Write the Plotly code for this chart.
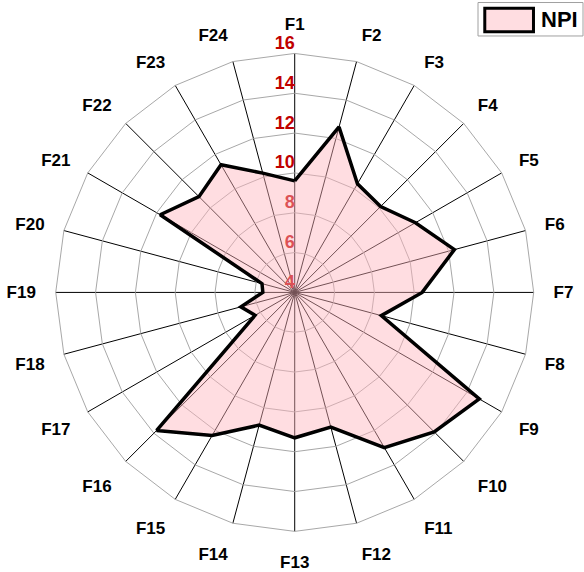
import plotly.graph_objects as go

categories = [f"F{i}" for i in range(1, 25)]
npi_values = [9.6, 12.6, 10.3, 10.1, 11.0, 12.3, 10.4, 8.5, 14.7, 13.9, 13.0, 11.0,
              11.3, 10.9, 12.3, 13.8, 6.3, 6.8, 5.6, 5.7, 11.8, 10.8, 11.4, 10.2]
radial_ticks = [4, 6, 8, 10, 12, 14, 16]
radial_tick_text = [str(v) for v in radial_ticks]
series_name = "NPI"

FONT = "Liberation Sans, Arial, sans-serif"
FILL = "rgba(255,180,188,0.45)"

fig = go.Figure()

# radial tick labels drawn below the filled area
fig.add_trace(go.Scatterpolar(
    r=radial_ticks,
    theta=[categories[0]] * len(radial_ticks),
    mode="text",
    text=radial_tick_text,
    textposition="top left",
    textfont=dict(family=FONT, size=18, color="#C00000", weight="bold"),
    cliponaxis=False,
    showlegend=False,
    hoverinfo="skip",
))

fig.add_trace(go.Scatterpolar(
    r=npi_values + [npi_values[0]],
    theta=categories + [categories[0]],
    mode="lines",
    fill="toself",
    fillcolor=FILL,
    line=dict(color="black", width=3.5),
    name=series_name,
    showlegend=False,
))

# legend box (top right)
fig.add_shape(type="rect", xref="paper", yref="paper",
              x0=0.8185, x1=0.9983, y0=0.9371, y1=0.9956,
              line=dict(color="#a0a0a0", width=1), fillcolor="white")
fig.add_shape(type="rect", xref="paper", yref="paper",
              x0=0.8301, x1=0.9135, y0=0.9444, y1=0.9857,
              line=dict(color="black", width=3), fillcolor=FILL)
fig.add_annotation(xref="paper", yref="paper", x=0.9230, y=0.9659,
                   xanchor="left", yanchor="middle", showarrow=False,
                   text=series_name,
                   font=dict(family=FONT, size=22, color="black", weight="bold"))

fig.update_layout(
    width=584, height=572,
    margin=dict(l=0, r=0, t=0, b=0),
    paper_bgcolor="white",
    showlegend=False,
    font=dict(family=FONT, size=17, color="black"),
    polar=dict(
        domain=dict(x=[0.0954, 0.9139], y=[0.0710, 0.9066]),
        bgcolor="white",
        gridshape="linear",
        radialaxis=dict(
            range=[3.999, 16],
            tickvals=radial_ticks,
            showticklabels=False,
            ticks="",
            showline=False,
            gridcolor="#a8a8a8",
            gridwidth=1,
            angle=90,
            layer="below traces",
        ),
        angularaxis=dict(
            direction="clockwise",
            rotation=90,
            categoryorder="array",
            categoryarray=categories,
            showgrid=True,
            gridcolor="black",
            gridwidth=1,
            showline=True,
            linecolor="#a8a8a8",
            linewidth=1,
            ticks="outside",
            ticklen=16,
            tickcolor="rgba(0,0,0,0)",
            tickfont=dict(family=FONT, size=17, color="black", weight="bold"),
            layer="below traces",
        ),
    ),
)

fig.write_html("out.html")
